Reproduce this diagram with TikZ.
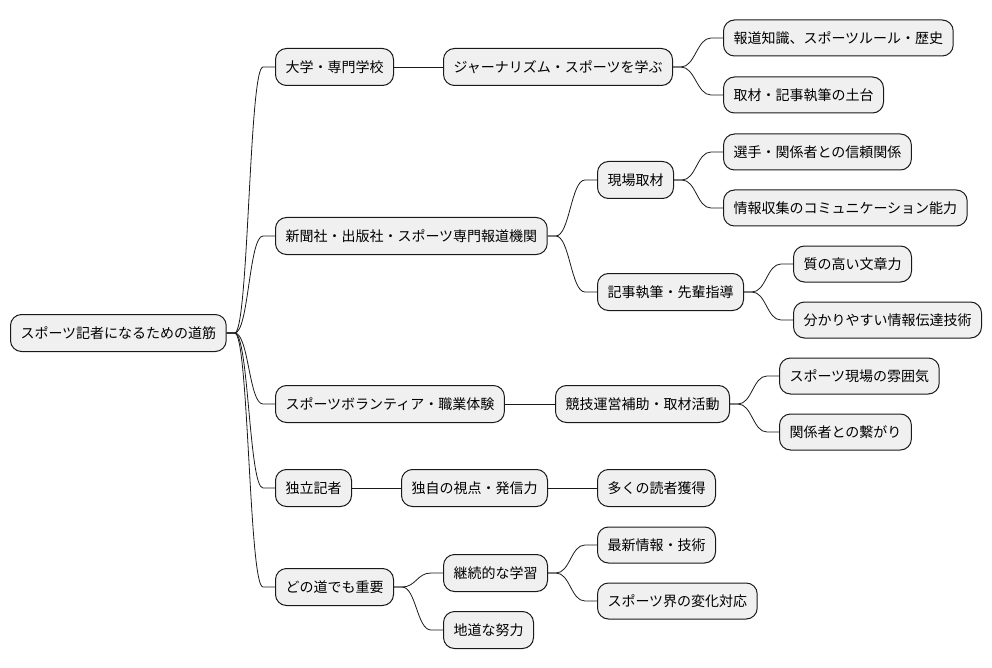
\documentclass[tikz,border=0pt]{standalone}
\usepackage{fontspec}
\setmainfont{Noto Sans CJK JP}
\usetikzlibrary{positioning}

\begin{document}
\begin{tikzpicture}[
  x=1pt, y=-1pt,
  font=\fontsize{14}{16}\selectfont,
  idea/.style={
    draw=black!90,
    fill=black!6,
    rounded corners=11pt,
    line width=1pt,
    anchor=west,
    inner xsep=10pt,
    inner ysep=0pt,
    minimum height=37pt
  },
  leaf/.style={
    idea,
    minimum height=36pt
  },
  link/.style={
    draw=black!90,
    line width=0.8pt
  }
]
\useasboundingbox (0,0) rectangle (992,668);

% Root
\node[idea] (root) at (10,333) {スポーツ記者になるための道筋};

% First level
\node[idea] (univ) at (275,67) {大学・専門学校};
\node[idea] (press) at (275,236) {新聞社・出版社・スポーツ専門報道機関};
\node[idea] (volunteer) at (275,404) {スポーツボランティア・職業体験};
\node[idea] (indep) at (275,488) {独立記者};
\node[idea] (always) at (275,587) {どの道でも重要};

% Second level
\node[idea] (learn) at (443,67) {ジャーナリズム・スポーツを学ぶ};
\node[idea] (field) at (597,180) {現場取材};
\node[idea] (write) at (597,292) {記事執筆・先輩指導};
\node[idea] (assist) at (555,404) {競技運営補助・取材活動};
\node[idea] (view) at (401,488) {独自の視点・発信力};
\node[idea] (study) at (443,573) {継続的な学習};
\node[idea] (effort) at (443,630) {地道な努力};

% Third level
\node[leaf] (know) at (723,38) {報道知識、スポーツルール・歴史};
\node[leaf] (base) at (723,95) {取材・記事執筆の土台};
\node[leaf] (trust) at (723,152) {選手・関係者との信頼関係};
\node[leaf] (comm) at (723,208) {情報収集のコミュニケーション能力};
\node[leaf] (prose) at (793,264) {質の高い文章力};
\node[leaf] (clarity) at (793,320) {分かりやすい情報伝達技術};
\node[leaf] (mood) at (779,376) {スポーツ現場の雰囲気};
\node[leaf] (ties) at (779,432) {関係者との繋がり};
\node[idea] (readers) at (597,488) {多くの読者獲得};
\node[leaf] (latest) at (597,545) {最新情報・技術};
\node[leaf] (change) at (597,601) {スポーツ界の変化対応};

% Curved branches
\foreach \a/\b in {root/univ, root/press, root/volunteer, root/indep, root/always,
                   learn/know, learn/base, press/field, press/write,
                   field/trust, field/comm, write/prose, write/clarity,
                   assist/mood, assist/ties, always/study, always/effort,
                   study/latest, study/change}
  \draw[link] (\a.east) -- ++(8,0)
    to[out=0,in=180,distance=14pt] ([xshift=-12]\b.west) -- (\b.west);

% Straight branches
\draw[link] (univ) -- (learn);
\draw[link] (volunteer) -- (assist);
\draw[link] (indep) -- (view);
\draw[link] (view) -- (readers);

\end{tikzpicture}
\end{document}
